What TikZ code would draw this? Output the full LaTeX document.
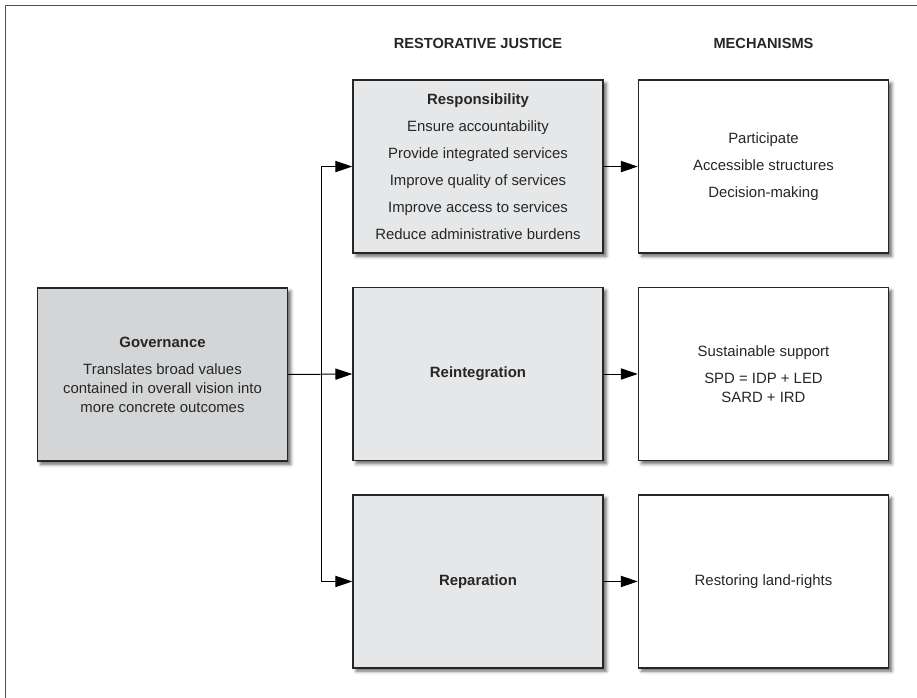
\documentclass[tikz,border=0pt]{standalone}
\usepackage{fontspec}
\setmainfont{Liberation Sans}
\usepackage{tikz}
\usetikzlibrary{positioning, arrows.meta, shadows.blur}
\definecolor{govgray}{HTML}{D4D5D6}
\definecolor{rjgray}{HTML}{E6E7E8}
\definecolor{inkgray}{HTML}{262626}
\newcommand{\itemgap}{\\[5.7pt]}
\tikzstyle{box} = [rectangle, minimum width=6.25cm, minimum height=4.325cm, text centered, align=center, draw=inkgray, line width=1pt, blur shadow={shadow xshift=0.08cm, shadow yshift=-0.08cm, shadow blur radius=0.08cm, shadow opacity=60}]
\tikzstyle{govbox} = [box, fill=govgray]
\tikzstyle{justice} = [box, fill=rjgray]
\tikzstyle{mechanism} = [box, fill=white]
\tikzstyle{heading} = [font=\fontsize{10.4}{13.5}\selectfont\bfseries]
\tikzstyle{arrow} = [line width=0.7pt, -{Triangle[length=0.42cm, width=0.28cm]}]
\tikzstyle{outline} = [draw=inkgray!80, line width=0.6pt]

\begin{document}
\begin{tikzpicture}[x=0.025cm, y=-0.025cm, node distance=0.825cm and 0.85cm, font=\fontsize{10.6}{13.5}\selectfont, text=inkgray]
        \useasboundingbox (0,0) rectangle (917,698);
        \draw[outline] (5,698) |- (917,5);

        \node[govbox]                     (gov)    at (162.5,374.5) {\textbf{Governance}\itemgap Translates broad values\\contained in overall vision into\\more concrete outcomes};
        \node[justice]                    (reint)  at (478,374)     {\textbf{Reintegration}};
        \node[justice, above=of reint]    (resp)   {\textbf{Responsibility}\itemgap Ensure accountability\itemgap Provide integrated services\itemgap Improve quality of services\itemgap Improve access to services\itemgap Reduce administrative burdens};
        \node[justice, below=of reint]    (repar)  {\textbf{Reparation}};
        \node[mechanism, right=of resp]   (mresp)  {Participate\itemgap Accessible structures\itemgap Decision-making};
        \node[mechanism, right=of reint]  (mreint) {Sustainable support\itemgap SPD = IDP + LED\\SARD + IRD};
        \node[mechanism, right=of repar]  (mrepar) {Restoring land-rights};

        \coordinate (headline) at (0,43);
        \node[heading] (rjhead)   at (resp.north |- headline)  {RESTORATIVE JUSTICE};
        \node[heading] (mechhead) at (mresp.north |- headline) {MECHANISMS};

        \coordinate[right=0.825cm of gov.east] (split);
        \draw[arrow] (gov.east) -- (reint.west);
        \draw[arrow] (split) |- (resp.west);
        \draw[arrow] (split) |- (repar.west);
        \draw[arrow] (resp)  -- (mresp);
        \draw[arrow] (reint) -- (mreint);
        \draw[arrow] (repar) -- (mrepar);
    \end{tikzpicture}
\end{document}
